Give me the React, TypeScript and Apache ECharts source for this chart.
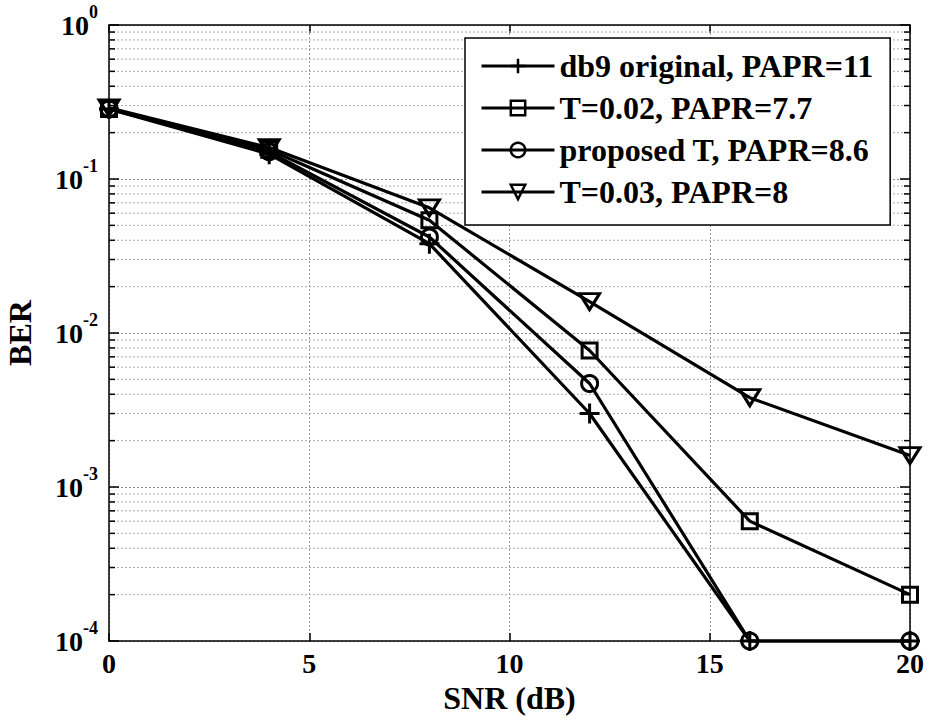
import React, { useEffect, useRef } from "react";
import * as echarts from "echarts";

const snr = [0, 4, 8, 12, 16, 20];
const berDb9 = [0.285, 0.145, 0.038, 0.003, 1e-4, 1e-4];
const berT002 = [0.285, 0.155, 0.054, 0.0077, 0.0006, 0.0002];
const berProposed = [0.285, 0.15, 0.042, 0.0047, 1e-4, 1e-4];
const berT003 = [0.29, 0.16, 0.065, 0.016, 0.0038, 0.0016];
const seriesNames = [
  "db9 original, PAPR=11",
  "T=0.02, PAPR=7.7",
  "proposed T, PAPR=8.6",
  "T=0.03, PAPR=8",
];
const xMin = 0;
const xMax = 20;
const xInterval = 5;
const yMin = 1e-4;
const yMax = 1;
const minorMultipliers = [2, 3, 4, 5, 6, 7, 8, 9];
const decadeStarts = [1e-4, 1e-3, 1e-2, 1e-1];

const FONT = "'Liberation Serif', 'Times New Roman', serif";

export default function App() {
  const ref = useRef<HTMLDivElement>(null);
  useEffect(() => {
    if (!ref.current) return;
    const chart = echarts.init(ref.current, null, { renderer: "svg" });
    const minorVals: number[][] = [];
    decadeStarts.forEach((d) =>
      minorMultipliers.forEach((m) => minorVals.push([0, d * m]))
    );
    const plusPath = "path://M10,0V20M0,10H20";
    const mk = (
      name: string,
      data: number[],
      symbol: string,
      size: any,
      rotate = 0
    ) => ({
      name,
      type: "line",
      xAxisIndex: 0,
      yAxisIndex: 0,
      data: snr.map((x, i) => [x, data[i]]),
      symbol,
      symbolSize: size,
      symbolRotate: rotate,
      showAllSymbol: true,
      clip: false,
      z: 3,
      lineStyle: { color: "#000", width: 3.2 },
      itemStyle: { color: "rgba(0,0,0,0)", borderColor: "#000", borderWidth: 3 },
      emphasis: { disabled: true },
    });
    const axisText = {
      fontFamily: FONT,
      fontWeight: "bold" as const,
      color: "#000",
    };
    chart.setOption({
      animation: false,
      backgroundColor: "#fff",
      grid: {
        left: 109,
        right: 20,
        top: 25,
        bottom: 81,
        containLabel: false,
        outerBoundsMode: "none",
      },
      legend: {
        data: seriesNames,
        orient: "vertical",
        left: 465,
        top: 38,
        padding: [12, 17, 17, 15],
        itemGap: 10,
        itemWidth: 73,
        itemHeight: 18,
        backgroundColor: "#fff",
        borderColor: "#000",
        borderWidth: 1.5,
        borderRadius: 0,
        z: 10,
        lineStyle: { width: 3, color: "#000" },
        itemStyle: { borderWidth: 2.5, borderColor: "#000" },
        textStyle: { ...axisText, fontSize: 32, lineHeight: 27 },
      },
      xAxis: [
        {
          type: "value",
          min: xMin,
          max: xMax,
          interval: xInterval,
          position: "bottom",
          name: "SNR (dB)",
          nameLocation: "middle",
          nameGap: 38,
          nameTextStyle: { ...axisText, fontSize: 32 },
          axisLine: { show: true, lineStyle: { color: "#000", width: 1.5 } },
          axisTick: { show: true, inside: true, length: 8, lineStyle: { color: "#000", width: 1.5 } },
          axisLabel: { ...axisText, fontSize: 28, margin: 8 },
          splitLine: { show: true, lineStyle: { color: "#999", width: 1, type: [2, 2] } },
        },
        {
          type: "value",
          min: xMin,
          max: xMax,
          interval: xInterval,
          position: "top",
          axisLine: { show: true, onZero: false, lineStyle: { color: "#000", width: 1.5 } },
          axisTick: { show: true, inside: true, length: 8, lineStyle: { color: "#000", width: 1.5 } },
          axisLabel: { show: false },
          splitLine: { show: false },
        },
      ],
      yAxis: [
        {
          type: "log",
          logBase: 10,
          min: yMin,
          max: yMax,
          position: "left",
          name: "BER",
          nameLocation: "middle",
          nameGap: 73,
          nameTextStyle: { ...axisText, fontSize: 32 },
          axisLine: { show: true, onZero: false, lineStyle: { color: "#000", width: 1.5 } },
          axisTick: { show: true, inside: true, length: 10, lineStyle: { color: "#000", width: 1.5 } },
          axisLabel: {
            margin: 11,
            formatter: (v: number) => {
              const e = Math.round(Math.log10(v));
              return `{b|10}{s|${e}}`;
            },
            rich: {
              b: { ...axisText, fontSize: 28, lineHeight: 44 },
              s: { ...axisText, fontSize: 18, lineHeight: 18, verticalAlign: "top" },
            },
          },
          splitLine: { show: true, lineStyle: { color: "#888", width: 1, type: [2, 2] } },
        },
        {
          type: "log",
          logBase: 10,
          min: yMin,
          max: yMax,
          position: "right",
          axisLine: { show: true, onZero: false, lineStyle: { color: "#000", width: 1.5 } },
          axisTick: { show: true, inside: true, length: 10, lineStyle: { color: "#000", width: 1.5 } },
          axisLabel: { show: false },
          splitLine: { show: false },
        },
      ],
      series: [
        {
          name: "minorGrid",
          type: "custom",
          xAxisIndex: 0,
          yAxisIndex: 0,
          silent: true,
          z: 1,
          clip: false,
          data: minorVals,
          renderItem: (params: any, api: any) => {
            const cs = params.coordSys;
            const y = api.coord([0, api.value(1)])[1];
            return {
              type: "group",
              children: [
                {
                  type: "line",
                  shape: { x1: cs.x, y1: y, x2: cs.x + cs.width, y2: y },
                  style: { stroke: "#aaa", lineWidth: 1, lineDash: [2, 2] },
                },
                {
                  type: "line",
                  shape: { x1: cs.x, y1: y, x2: cs.x + 6, y2: y },
                  style: { stroke: "#000", lineWidth: 1.5 },
                },
                {
                  type: "line",
                  shape: { x1: cs.x + cs.width - 6, y1: y, x2: cs.x + cs.width, y2: y },
                  style: { stroke: "#000", lineWidth: 1.5 },
                },
              ],
            };
          },
        },
        mk(seriesNames[0], berDb9, plusPath, 20),
        mk(seriesNames[1], berT002, "rect", 15),
        mk(seriesNames[2], berProposed, "circle", 16),
        mk(seriesNames[3], berT003, "triangle", [20, 16], 180),
      ],
    });
    return () => chart.dispose();
  }, []);
  return (
    <div
      ref={ref}
      style={{ position: "fixed", left: 0, top: 0, width: 930, height: 722, background: "#fff" }}
    />
  );
}
